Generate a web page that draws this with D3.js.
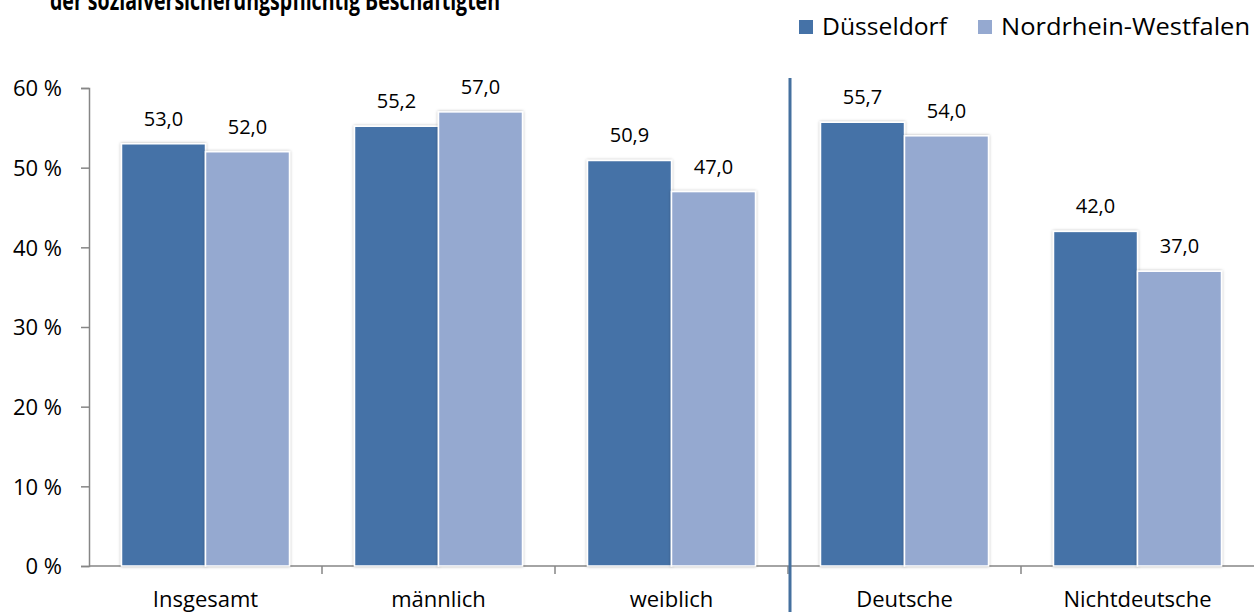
<!DOCTYPE html>
<html>
<head>
<meta charset="utf-8">
<script src="https://cdn.jsdelivr.net/npm/d3@7"></script>
<style>
  body { margin: 0; background: #fff; }
  text { font-family: "Open Sans", sans-serif; fill: #000; }
</style>
</head>
<body>
<script>
//chart data
var categories = ["Insgesamt", "männlich", "weiblich", "Deutsche", "Nichtdeutsche"];
var seriesNames = ["Düsseldorf", "Nordrhein-Westfalen"];
var duesseldorf = [53.0, 55.2, 50.9, 55.7, 42.0];
var nrw = [52.0, 57.0, 47.0, 54.0, 37.0];
var yTicks = [0, 10, 20, 30, 40, 50, 60];
var colors = ["#4572a7", "#95a9d0"];

var width = 1256, height = 612;

var svg = d3.select("body")
  .append("svg")
  .attr("width", width)
  .attr("height", height);

//soft shadow round the bars
var defs = svg.append("defs");
var filter = defs.append("filter").attr("id", "shadow")
  .attr("x", "-10%").attr("y", "-10%").attr("width", "120%").attr("height", "120%");
filter.append("feDropShadow")
  .attr("dx", 0).attr("dy", 0).attr("stdDeviation", 1.5)
  .attr("flood-color", "#000").attr("flood-opacity", 0.3);

//scales
var x = d3.scaleBand()
  .domain(categories)
  .range([89, 1254]);

var x1 = d3.scaleBand()
  .domain(seriesNames)
  .range([0, 168]);

var y = d3.scaleLinear()
  .domain([0, 60])
  .range([566, 88]);

//title (cut off at top in the original)
svg.append("text")
  .attr("x", 50)
  .attr("y", 10)
  .attr("textLength", 450)
  .attr("lengthAdjust", "spacingAndGlyphs")
  .style("font-size", "26px")
  .style("font-weight", "bold")
  .text("der sozialversicherungspflichtig Beschäftigten");

//legend
var legendX = [799, 978];
var legendW = [125, 249];
seriesNames.forEach(function(name, i) {
  svg.append("rect")
    .attr("x", legendX[i]).attr("y", 20)
    .attr("width", 14).attr("height", 14)
    .attr("fill", colors[i]);
  svg.append("text")
    .attr("x", legendX[i] + 23).attr("y", 35)
    .attr("textLength", legendW[i])
    .attr("lengthAdjust", "spacingAndGlyphs")
    .style("font-size", "24px")
    .text(name);
});

//y axis
var yAxis = svg.append("g")
  .attr("transform", "translate(89,0)")
  .call(d3.axisLeft(y).tickValues(yTicks).tickSize(8).tickPadding(19)
    .tickFormat(function(d) { return d + " %"; }));
yAxis.selectAll("text").style("font-size", "22px").attr("dy", "0.35em");

//x axis
var xAxis = svg.append("g")
  .attr("transform", "translate(0,566)");
xAxis.append("line")
  .attr("x1", 89).attr("x2", 1254);
xAxis.selectAll(".xtick")
  .data(categories.slice(1))
  .enter()
  .append("line")
  .attr("class", "xtick")
  .attr("x1", function(d) { return x(d); })
  .attr("x2", function(d) { return x(d); })
  .attr("y1", 0).attr("y2", 8);
xAxis.selectAll(".xlabel")
  .data(categories)
  .enter()
  .append("text")
  .attr("class", "xlabel")
  .attr("x", function(d) { return x(d) + x.bandwidth() / 2; })
  .attr("y", 41)
  .attr("text-anchor", "middle")
  .style("font-size", "22px")
  .text(function(d) { return d; });

svg.selectAll(".domain, .tick line, g line").attr("stroke", "#868686").attr("stroke-width", 1.5);

//bars
var rows = categories.map(function(c, i) {
  return { cat: c, values: [duesseldorf[i], nrw[i]] };
});

var groups = svg.selectAll(".group")
  .data(rows)
  .enter()
  .append("g")
  .attr("class", "group")
  .attr("transform", function(d) {
    return "translate(" + (x(d.cat) + (x.bandwidth() - 168) / 2) + ",0)";
  });

groups.selectAll("rect")
  .data(function(d) { return d.values.map(function(v, i) { return { s: seriesNames[i], v: v, i: i }; }); })
  .enter()
  .append("rect")
  .attr("x", function(d) { return x1(d.s); })
  .attr("y", function(d) { return y(d.v); })
  .attr("width", x1.bandwidth())
  .attr("height", function(d) { return y(0) - y(d.v); })
  .attr("fill", function(d) { return colors[d.i]; })
  .attr("stroke", "#fff")
  .attr("stroke-width", 1.5)
  .attr("filter", "url(#shadow)");

groups.selectAll(".val")
  .data(function(d) { return d.values.map(function(v, i) { return { s: seriesNames[i], v: v }; }); })
  .enter()
  .append("text")
  .attr("class", "val")
  .attr("x", function(d) { return x1(d.s) + x1.bandwidth() / 2; })
  .attr("y", function(d) { return y(d.v) - 18; })
  .attr("text-anchor", "middle")
  .style("font-size", "20px")
  .text(function(d) { return d3.format(".1f")(d.v).replace(".", ","); });

//separator between sex and nationality groups
svg.append("line")
  .attr("x1", x("Deutsche") + 2).attr("x2", x("Deutsche") + 2)
  .attr("y1", 78).attr("y2", 612)
  .attr("stroke", "#44709f")
  .attr("stroke-width", 3);
</script>
</body>
</html>
